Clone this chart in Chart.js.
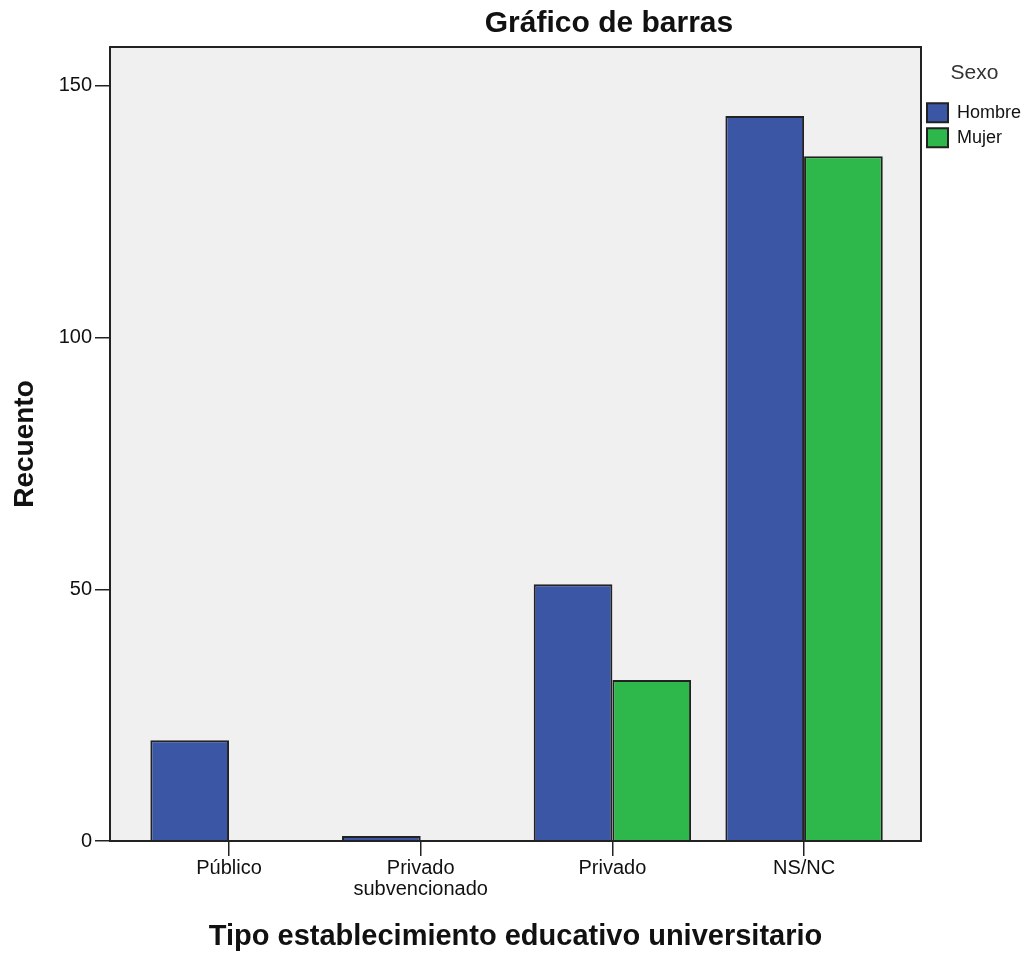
<!DOCTYPE html>
<html>
<head>
<meta charset="utf-8">
<script src="https://cdn.jsdelivr.net/npm/chart.js@4.4.1/dist/chart.umd.min.js"></script>
<style>
  body { margin: 0; background: #fff; }
  #wrap { width: 1028px; height: 958px; }
</style>
</head>
<body>
<div id="wrap"><canvas id="barChart" width="1028" height="958"></canvas></div>
<script>
// === Datos ===
const categorias = ["Público", ["Privado", "subvencionado"], "Privado", "NS/NC"];
const hombre = [20, 1, 51, 144];
const mujer = [0, 0, 32, 136];
const ticksY = [0, 50, 100, 150];

const azul = "#3c56a6";
const verde = "#2eb74b";
const fuente = "'Liberation Sans', Arial, sans-serif";

// fondo gris + marco del area del grafico
const marcoPlugin = {
  id: "marco",
  beforeDatasetsDraw(chart) {
    const a = chart.chartArea;
    const c = chart.ctx;
    c.save();
    c.fillStyle = "#f0f0f0";
    c.fillRect(a.left, a.top, a.right - a.left, a.bottom - a.top);
    c.restore();
  },
  afterDraw(chart) {
    const a = chart.chartArea;
    const c = chart.ctx;
    c.save();
    c.strokeStyle = "#222";
    c.lineWidth = 2;
    c.strokeRect(a.left, a.top, a.right - a.left, a.bottom - a.top);
    // titulo principal
    c.fillStyle = "#111";
    c.font = "bold 30px " + fuente;
    c.textAlign = "center";
    c.textBaseline = "alphabetic";
    c.fillText("Gráfico de barras", 609, 32);
    c.restore();
  }
};

const ctx = document.getElementById("barChart");
new Chart(ctx, {
  type: "bar",
  data: {
    datasets: [
      {
        label: "Hombre",
        data: hombre.map((v, i) => ({ x: i, y: v })),
        backgroundColor: azul,
        borderColor: "#222",
        borderWidth: 2
      },
      {
        label: "Mujer",
        data: mujer.map((v, i) => ({ x: i, y: v })),
        backgroundColor: verde,
        borderColor: "#222",
        borderWidth: 2
      }
    ]
  },
  options: {
    responsive: false,
    animation: false,
    layout: { padding: { top: 47, left: 0, right: 0, bottom: 0 } },
    datasets: {
      bar: { categoryPercentage: 0.821, barPercentage: 1 }
    },
    plugins: {
      title: { display: false },
      tooltip: { enabled: false },
      legend: {
        position: "right",
        align: "start",
        maxWidth: 107,
        title: {
          display: true,
          text: "Sexo",
          color: "#333",
          font: { family: fuente, size: 21 },
          padding: { top: 16, bottom: 9 }
        },
        labels: {
          color: "#111",
          font: { family: fuente, size: 18 },
          boxWidth: 21,
          boxHeight: 19,
          padding: 6
        }
      }
    },
    scales: {
      x: {
        type: "linear",
        offset: false,
        min: -0.621,
        max: 3.61,
        afterBuildTicks: (s) => { s.ticks = categorias.map((_, i) => ({ value: i })); },
        afterFit: (s) => { s.height = 117; },
        ticks: {
          color: "#111",
          font: { family: fuente, size: 20, lineHeight: 1.05 },
          padding: 2,
          maxRotation: 0,
          autoSkip: false,
          callback: (v) => categorias[v]
        },
        grid: { offset: false, drawOnChartArea: false, drawTicks: true, tickLength: 15, color: "#222", lineWidth: 1.5 },
        border: { display: true, color: "#222", width: 2 },
        title: {
          display: true,
          text: "Tipo establecimiento educativo universitario",
          color: "#111",
          font: { family: fuente, size: 29, weight: "bold" },
          padding: { top: 0, bottom: 4 }
        }
      },
      y: {
        min: 0,
        max: 157.7,
        afterBuildTicks: (s) => { s.ticks = ticksY.map((v) => ({ value: v })); },
        afterFit: (s) => { s.width = 110; },
        ticks: {
          color: "#111",
          font: { family: fuente, size: 20 },
          padding: 3
        },
        grid: { drawOnChartArea: false, drawTicks: true, tickLength: 15, color: "#222", lineWidth: 1.5 },
        border: { display: true, color: "#222", width: 2 },
        title: {
          display: true,
          text: "Recuento",
          color: "#111",
          font: { family: fuente, size: 28, weight: "bold" },
          padding: { top: 8, bottom: 0 }
        }
      }
    }
  },
  plugins: [marcoPlugin]
});
</script>
</body>
</html>
